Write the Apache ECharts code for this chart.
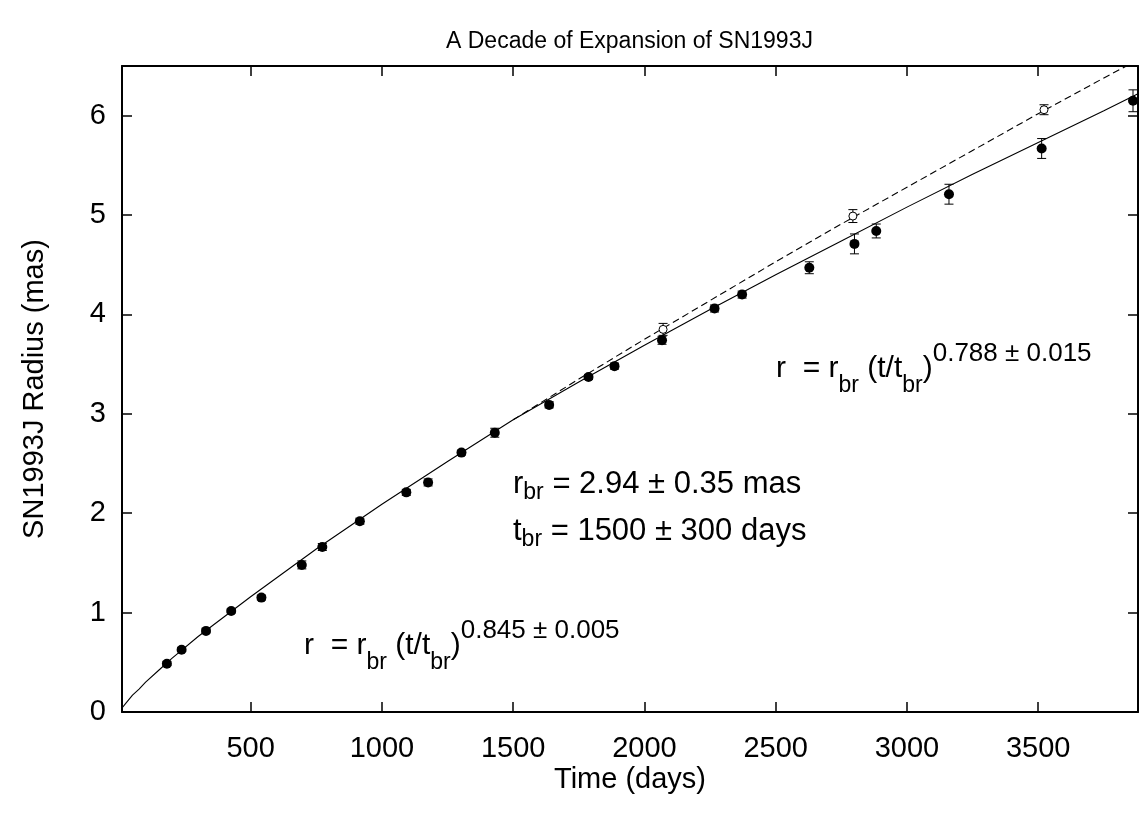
<!DOCTYPE html>
<html><head><meta charset="utf-8">
<script src="https://cdn.jsdelivr.net/npm/echarts@6/dist/echarts.min.js"></script>
<style>html,body{margin:0;padding:0;background:#fff}#c{width:1139px;height:816px}</style>
</head><body><div id="c"></div>
<script>
// ---- data ----
const xTicks = [500, 1000, 1500, 2000, 2500, 3000, 3500];
const yTicks = [0, 1, 2, 3, 4, 5, 6];

// filled points: time (days), radius (mas), error (mas)
const filledT   = [181, 237, 330, 426, 541, 695, 773, 916, 1093, 1176, 1303, 1430, 1637, 1787, 1886, 2067, 2267, 2372, 2628, 2800, 2883, 3160, 3513, 3861];
const filledR   = [0.486, 0.627, 0.816, 1.017, 1.151, 1.48, 1.66, 1.92, 2.21, 2.31, 2.61, 2.81, 3.09, 3.37, 3.48, 3.74, 4.06, 4.20, 4.47, 4.71, 4.84, 5.21, 5.67, 6.15];
const filledErr = [0.02, 0.02, 0.02, 0.02, 0.025, 0.04, 0.035, 0.03, 0.03, 0.035, 0.025, 0.045, 0.03, 0.025, 0.03, 0.04, 0.035, 0.035, 0.06, 0.10, 0.07, 0.10, 0.10, 0.11];

// open points
const openT   = [2071, 2794, 3522];
const openR   = [3.85, 4.99, 6.06];
const openErr = [0.06, 0.065, 0.05];

// solid fit curve
const solidT = [10, 25, 50, 75, 100, 150, 200, 300, 500, 750, 1000, 1250, 1500, 1750, 2000, 2250, 2500, 2750, 3000, 3250, 3500, 3750, 3880];
const solidR = [0.04, 0.09, 0.17, 0.23, 0.30, 0.42, 0.54, 0.76, 1.16, 1.64, 2.09, 2.52, 2.94, 3.32, 3.69, 4.05, 4.40, 4.74, 5.08, 5.41, 5.73, 6.05, 6.22];

// dashed continuation curve
const dashT = [1500, 1750, 2000, 2250, 2500, 2750, 3000, 3250, 3500, 3750, 3836];
const dashR = [2.94, 3.35, 3.75, 4.14, 4.53, 4.91, 5.28, 5.65, 6.02, 6.38, 6.50];

// ---- chart ----
const FONT = 'Liberation Sans';
const chart = echarts.init(document.getElementById('c'), null, {renderer: 'canvas'});

const filledData = filledT.map((t, i) => [t, filledR[i], filledErr[i]]);
const openData = openT.map((t, i) => [t, openR[i], openErr[i]]);
const solidData = solidT.map((t, i) => [t, solidR[i]]);
const dashData = dashT.map((t, i) => [t, dashR[i]]);

function errorBars(params, api) {
  const x = api.value(0), y = api.value(1), e = api.value(2);
  const hi = api.coord([x, y + e]);
  const lo = api.coord([x, y - e]);
  const w = 4.5;
  const st = {stroke: '#000', lineWidth: 1};
  return {
    type: 'group',
    children: [
      {type: 'line', shape: {x1: hi[0], y1: hi[1], x2: lo[0], y2: lo[1]}, style: st},
      {type: 'line', shape: {x1: hi[0] - w, y1: hi[1], x2: hi[0] + w, y2: hi[1]}, style: st},
      {type: 'line', shape: {x1: lo[0] - w, y1: lo[1], x2: lo[0] + w, y2: lo[1]}, style: st}
    ]
  };
}

const axisLineStyle = {show: true, onZero: false, lineStyle: {color: '#000', width: 2}};
const tickStyle = {color: '#000', width: 1.5};
const txt = {fontFamily: FONT, color: '#000'};
const plain = v => String(v);

function formula(main, sup) {
  return '{m|r  = r}{s|br}{m| (t/t}{s|br}{m|)}{p|' + sup + '}';
}
const formulaRich = {
  m: {fontFamily: FONT, fontSize: 30, lineHeight: 56, color: '#000'},
  s: {fontFamily: FONT, fontSize: 23, lineHeight: 32, verticalAlign: 'bottom', color: '#000'},
  p: {fontFamily: FONT, fontSize: 26, lineHeight: 16, verticalAlign: 'top', color: '#000'}
};
const paramRich = {
  m: {fontFamily: FONT, fontSize: 31, lineHeight: 40, color: '#000'},
  s: {fontFamily: FONT, fontSize: 23, lineHeight: 20, verticalAlign: 'bottom', color: '#000'}
};

const option = {
  animation: false,
  backgroundColor: '#fff',
  title: {
    text: 'A Decade of Expansion of SN1993J',
    left: 446,
    top: 30,
    padding: 0,
    textStyle: {fontFamily: FONT, fontSize: 23, fontWeight: 'normal', color: '#000'}
  },
  grid: {left: 122, right: 1, top: 66, bottom: 104, show: false},
  xAxis: [
    {
      type: 'value', min: 10, max: 3880, position: 'bottom',
      name: 'Time (days)', nameLocation: 'middle', nameGap: 53, nameMoveOverlap: false,
      nameTextStyle: Object.assign({fontSize: 29}, txt),
      axisLine: axisLineStyle,
      axisTick: {show: true, inside: true, length: 10, customValues: xTicks, lineStyle: tickStyle},
      axisLabel: Object.assign({customValues: xTicks, fontSize: 29, margin: 22, formatter: plain}, txt),
      splitLine: {show: false}
    },
    {
      type: 'value', min: 10, max: 3880, position: 'top',
      axisLine: axisLineStyle,
      axisTick: {show: true, inside: true, length: 10, customValues: xTicks, lineStyle: tickStyle},
      axisLabel: {show: false},
      splitLine: {show: false}
    }
  ],
  yAxis: [
    {
      type: 'value', min: 0, max: 6.5, position: 'left',
      name: 'SN1993J Radius (mas)', nameLocation: 'middle', nameGap: 73, nameMoveOverlap: false,
      nameTextStyle: Object.assign({fontSize: 29}, txt),
      axisLine: axisLineStyle,
      axisTick: {show: true, inside: true, length: 10, customValues: yTicks, lineStyle: tickStyle},
      axisLabel: Object.assign({customValues: yTicks, fontSize: 29, margin: 16, formatter: plain}, txt),
      splitLine: {show: false}
    },
    {
      type: 'value', min: 0, max: 6.5, position: 'right',
      axisLine: axisLineStyle,
      axisTick: {show: true, inside: true, length: 10, customValues: yTicks, lineStyle: tickStyle},
      axisLabel: {show: false},
      splitLine: {show: false}
    }
  ],
  series: [
    {
      type: 'line', data: solidData, showSymbol: false, symbol: 'none', clip: true,
      lineStyle: {color: '#000', width: 1.1}, z: 2
    },
    {
      type: 'line', data: dashData, showSymbol: false, symbol: 'none', clip: true,
      lineStyle: {color: '#000', width: 1.1, type: [7, 4]}, z: 2
    },
    {type: 'custom', data: filledData, renderItem: errorBars, clip: true, z: 3},
    {type: 'custom', data: openData, renderItem: errorBars, clip: true, z: 3},
    {
      type: 'scatter', data: filledData, symbol: 'circle', symbolSize: 10,
      itemStyle: {color: '#000', opacity: 1}, z: 4
    },
    {
      type: 'scatter', data: openData, symbol: 'circle', symbolSize: 8,
      itemStyle: {color: '#fff', borderColor: '#000', borderWidth: 1, opacity: 1}, z: 4
    }
  ],
  graphic: [
    {
      type: 'text', x: 776, y: 369, z: 10,
      style: {text: formula('r', '0.788 ± 0.015'), verticalAlign: 'middle', align: 'left', rich: formulaRich}
    },
    {
      type: 'text', x: 513, y: 484, z: 10,
      style: {text: '{m|r}{s|br}{m| = 2.94 ± 0.35 mas}', verticalAlign: 'middle', align: 'left', rich: paramRich}
    },
    {
      type: 'text', x: 513, y: 531, z: 10,
      style: {text: '{m|t}{s|br}{m| = 1500 ± 300 days}', verticalAlign: 'middle', align: 'left', rich: paramRich}
    },
    {
      type: 'text', x: 304, y: 646, z: 10,
      style: {text: formula('r', '0.845 ± 0.005'), verticalAlign: 'middle', align: 'left', rich: formulaRich}
    }
  ]
};
chart.setOption(option);
</script>
</body></html>
